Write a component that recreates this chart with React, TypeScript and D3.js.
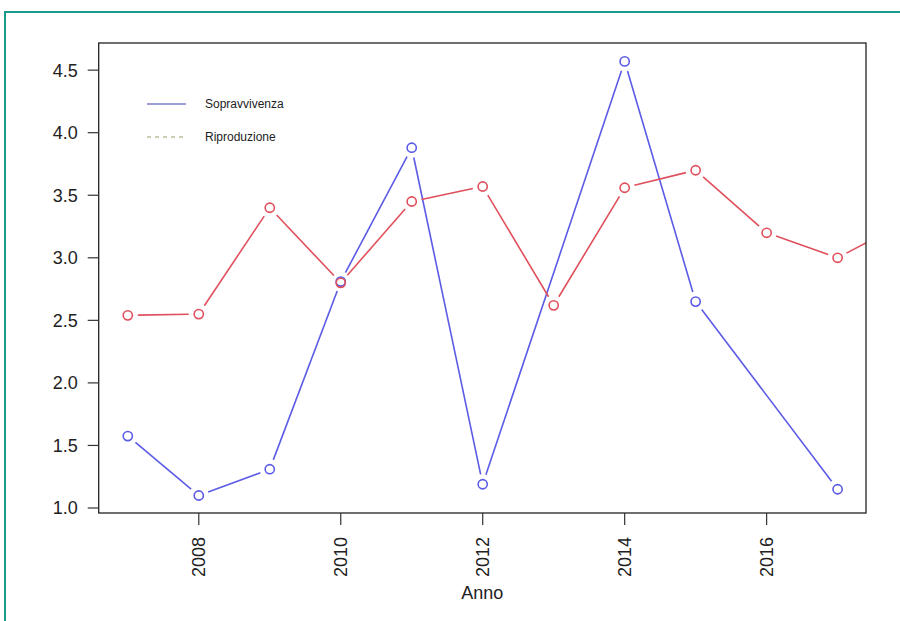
import React from "react";
import * as d3 from "d3";

const redYears = [2007, 2008, 2009, 2010, 2011, 2012, 2013, 2014, 2015, 2016, 2017, 2018];
const redValues = [2.54, 2.55, 3.4, 2.8, 3.45, 3.57, 2.62, 3.56, 3.7, 3.2, 3.0, 3.3];
const blueYears = [2007, 2008, 2009, 2010, 2011, 2012, 2014, 2015, 2017];
const blueValues = [1.575, 1.1, 1.31, 2.81, 3.88, 1.19, 4.57, 2.65, 1.15];
const yTicks = [1.0, 1.5, 2.0, 2.5, 3.0, 3.5, 4.0, 4.5];
const xTicks = [2008, 2010, 2012, 2014, 2016];
const legendLabels = ["Sopravvivenza", "Riproduzione"];

const W = 900, H = 621;
const L = 98.7, T = 43, R = 866, B = 513;
const FONT = "'Liberation Sans', Arial, Helvetica, sans-serif";
const BLUE = "#5b5be6";
const RED = "#e0505c";

export default function App() {
  const x = d3.scaleLinear().domain([2006.59, 2017.4]).range([L, R]);
  const y = d3.scaleLinear().domain([0.96, 4.717]).range([B, T]);

  const segs = (xs: number[], vs: number[], gap: number) => {
    const out: { x1: number; y1: number; x2: number; y2: number }[] = [];
    for (let i = 0; i < xs.length - 1; i++) {
      const ax = x(xs[i]), ay = y(vs[i]), bx = x(xs[i + 1]), by = y(vs[i + 1]);
      const len = Math.hypot(bx - ax, by - ay);
      if (len <= 2 * gap) continue;
      const ux = (bx - ax) / len, uy = (by - ay) / len;
      out.push({ x1: ax + ux * gap, y1: ay + uy * gap, x2: bx - ux * gap, y2: by - uy * gap });
    }
    return out;
  };

  const series = [
    { xs: blueYears, vs: blueValues, color: BLUE },
    { xs: redYears, vs: redValues, color: RED },
  ];

  return (
    <svg width={W} height={H} style={{ position: "absolute", left: 0, top: 0, background: "#fff" }}>
      <rect x={5} y={12} width={1000} height={1000} fill="#fff" stroke="#1a9a8c" strokeWidth={2} />
      <defs>
        <clipPath id="plotclip">
          <rect x={L} y={T} width={R - L} height={B - T} />
        </clipPath>
      </defs>
      <g clipPath="url(#plotclip)">
        {series.map((s, si) => (
          <g key={si}>
            {segs(s.xs, s.vs, 10).map((sg, i) => (
              <line key={i} {...sg} stroke={s.color} strokeWidth={1.6} />
            ))}
            {s.xs.map((yr, i) => (
              <circle key={i} cx={x(yr)} cy={y(s.vs[i])} r={4.6} fill="none" stroke={s.color} strokeWidth={1.6} />
            ))}
          </g>
        ))}
      </g>
      <rect x={L} y={T} width={R - L} height={B - T} fill="none" stroke="#222" strokeWidth={1.3} />
      {yTicks.map((t) => (
        <g key={t}>
          <line x1={L - 11} x2={L} y1={y(t)} y2={y(t)} stroke="#333" strokeWidth={1.2} />
          <text x={L - 21} y={y(t)} dy="0.36em" textAnchor="end" fontFamily={FONT} fontSize={18} fill="#222">
            {t.toFixed(1)}
          </text>
        </g>
      ))}
      {xTicks.map((t) => (
        <g key={t}>
          <line x1={x(t)} x2={x(t)} y1={B} y2={B + 12} stroke="#333" strokeWidth={1.2} />
          <text
            transform={`translate(${x(t)},${B + 24}) rotate(-90)`}
            textAnchor="end"
            dy="0.36em"
            fontFamily={FONT}
            fontSize={18}
            fill="#222"
          >
            {t}
          </text>
        </g>
      ))}
      <text x={(L + R) / 2} y={599} textAnchor="middle" fontFamily={FONT} fontSize={18} fill="#222">
        Anno
      </text>
      <line x1={147} x2={186} y1={104} y2={104} stroke="#3c3cb4" strokeWidth={1.2} />
      <text x={205} y={104} dy="0.35em" fontFamily={FONT} fontSize={12} fill="#222">
        {legendLabels[0]}
      </text>
      <line x1={147} x2={186} y1={137} y2={137} stroke="#9a9a70" strokeWidth={1.2} strokeDasharray="4 4" />
      <text x={205} y={137} dy="0.35em" fontFamily={FONT} fontSize={12} fill="#222">
        {legendLabels[1]}
      </text>
    </svg>
  );
}
